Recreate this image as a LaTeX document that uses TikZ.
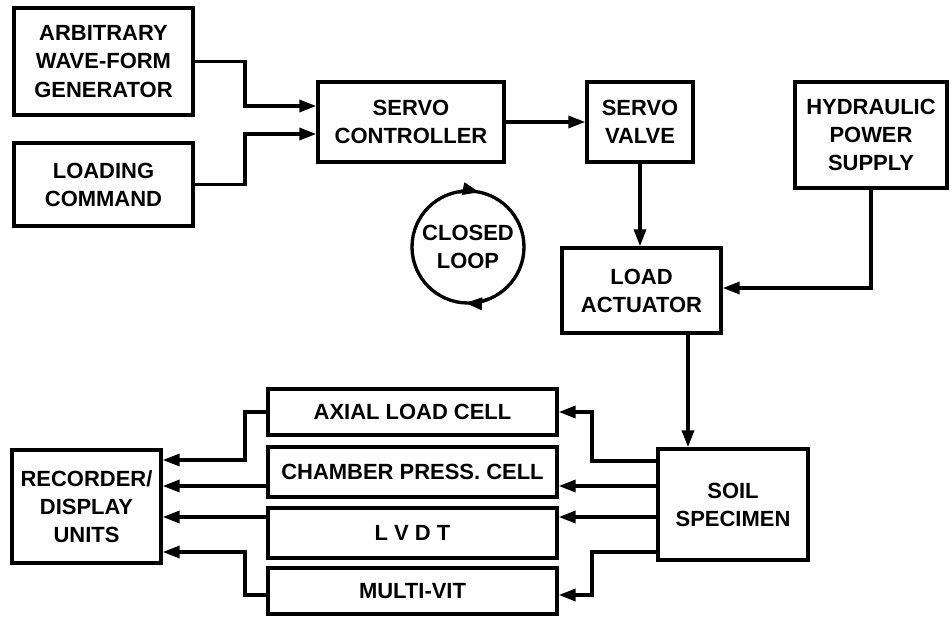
\documentclass[tikz,border=0pt]{standalone}
\usepackage{fontspec}
\setmainfont{Liberation Sans}
\usetikzlibrary{arrows.meta}
\begin{document}
\begin{tikzpicture}[x=0.2mm,y=-0.2mm,
  box/.style={draw,line width=1.9pt,align=center,inner sep=0pt,font=\fontsize{12.5}{16}\selectfont\bfseries},
  arr/.style={line width=1.9pt,-{Triangle[length=3.4mm,width=2.4mm]}}]
\useasboundingbox (0,0) rectangle (952,617);
\node[box,minimum width=35.8mm,minimum height=21.4mm] (arb) at (103.5,61.5) {ARBITRARY\\WAVE-FORM\\GENERATOR};
\node[box,minimum width=35.8mm,minimum height=16.6mm] (cmd) at (103.5,184.5) {LOADING\\COMMAND};
\node[box,minimum width=37.2mm,minimum height=16mm] (ctrl) at (411,122) {SERVO\\CONTROLLER};
\node[box,minimum width=21.2mm,minimum height=16mm] (valve) at (640,122) {SERVO\\VALVE};
\node[box,minimum width=30.4mm,minimum height=21.2mm] (hyd) at (871,135) {HYDRAULIC\\POWER\\SUPPLY};
\node[box,minimum width=31.8mm,minimum height=17mm] (act) at (641.5,290.5) {LOAD\\ACTUATOR};
\node[box,circle,minimum size=22.4mm] (loop) at (468,247) {CLOSED\\LOOP};
\node[box,minimum width=30mm,minimum height=22.2mm] (soil) at (733,504.5) {SOIL\\SPECIMEN};
\node[box,minimum width=57.8mm,minimum height=9.2mm] (axial) at (412.5,412) {AXIAL LOAD CELL};
\node[box,minimum width=57.8mm,minimum height=10mm] (press) at (412.5,472) {CHAMBER PRESS. CELL};
\node[box,minimum width=57.8mm,minimum height=10mm] (lvdt) at (412.5,533) {L V D T};
\node[box,minimum width=57.8mm,minimum height=9.2mm] (multi) at (412.5,591) {MULTI-VIT};
\node[box,minimum width=29.8mm,minimum height=22.6mm] (rec) at (86.5,506.5) {RECORDER/\\DISPLAY\\UNITS};
% command side
\draw[arr] (arb.east) -| (245,106) -- (ctrl.west |- 0,106);
\draw[arr] (cmd.east) -| (245,134) -- (ctrl.west |- 0,134);
\draw[arr] (ctrl.east) -- (valve.west);
\draw[arr] (valve.south) -- (valve.south |- act.north);
\draw[arr] (hyd.south) |- (act.east |- 0,288);
\draw[arr] (act.south -| 688,0) -- (soil.north -| 688,0);
% loop arrows
\draw[arr] ([shift={(100:11.2mm)}]loop.center) arc[start angle=100,end angle=78,radius=11.2mm];
\draw[arr] ([shift={(292:11.2mm)}]loop.center) arc[start angle=292,end angle=267,radius=11.2mm];
% measurements
\draw[arr] (soil.west |- 0,461) -| (592,412) -- (axial.east);
\draw[arr] (soil.west |- 0,486) -- (press.east |- 0,486);
\draw[arr] (soil.west |- 0,517) -- (lvdt.east |- 0,517);
\draw[arr] (soil.west |- 0,552) -| (592,595) -- (multi.east |- 0,595);
\draw[arr] (axial.west) -| (245,460) -- (rec.east |- 0,460);
\draw[arr] (press.west |- 0,486) -- (rec.east |- 0,486);
\draw[arr] (lvdt.west |- 0,517) -- (rec.east |- 0,517);
\draw[arr] (multi.west |- 0,595) -| (245,552) -- (rec.east |- 0,552);
\end{tikzpicture}
\end{document}
